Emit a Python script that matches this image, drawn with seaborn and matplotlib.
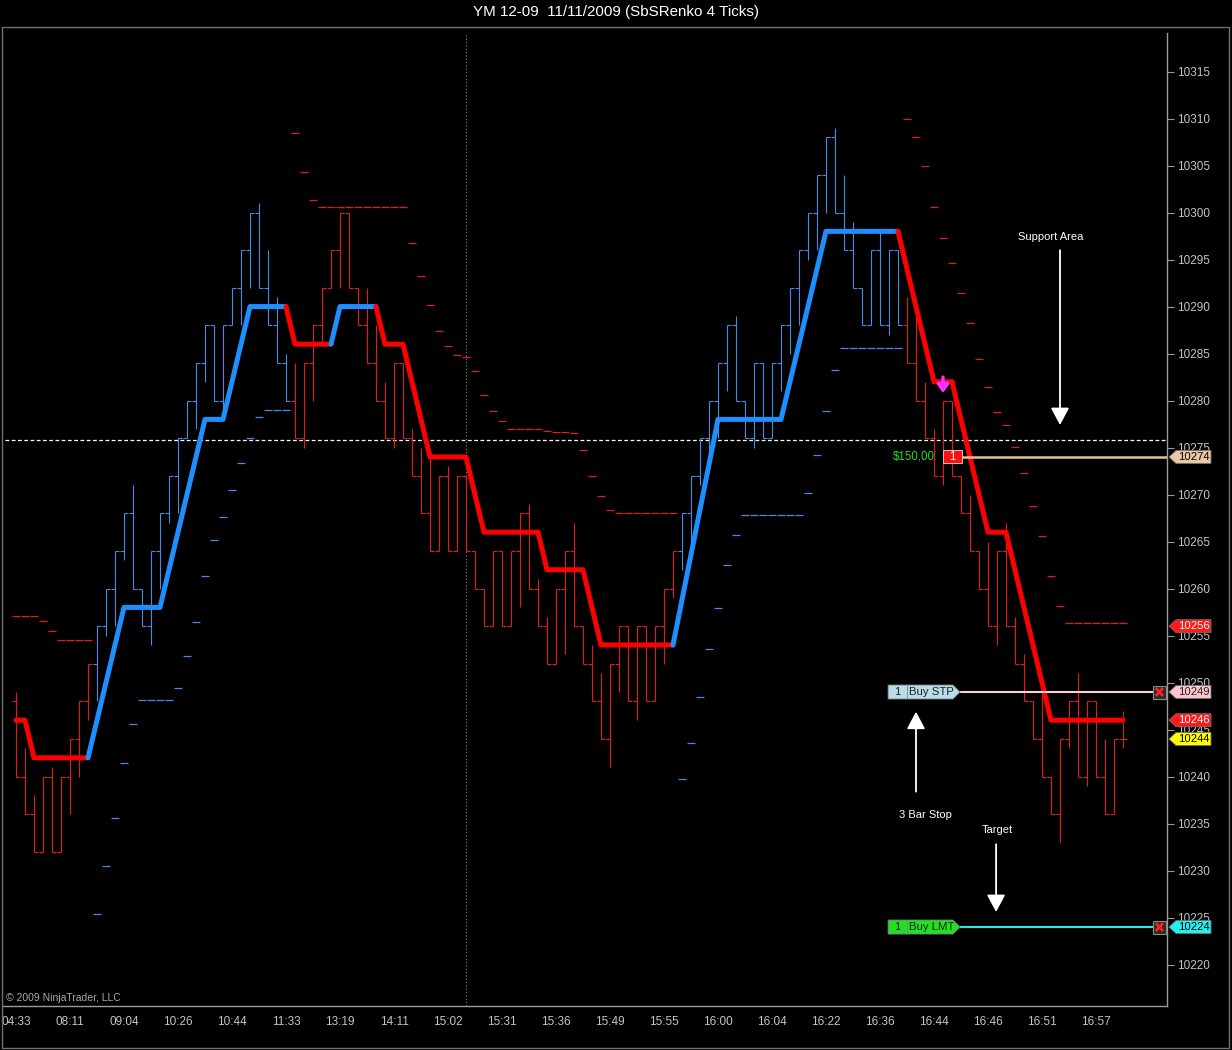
import numpy as np
import matplotlib
matplotlib.use("Agg")
import matplotlib.pyplot as plt
import matplotlib.transforms as mtransforms
from matplotlib.patches import Polygon, Rectangle
import seaborn as sns

# Renko bars (box = 4 pts); open of a bar = close of the bar before
first_open = 10248
closes = [10240, 10236, 10232, 10240, 10232, 10240, 10244, 10248, 10252, 10256,
          10260, 10264, 10268, 10260, 10256, 10264, 10268, 10272, 10276, 10280,
          10284, 10288, 10280, 10288, 10292, 10296, 10300, 10292, 10288, 10284,
          10280, 10276, 10284, 10288, 10292, 10296, 10300, 10292, 10288, 10284,
          10280, 10276, 10284, 10276, 10272, 10268, 10264, 10272, 10264, 10272,
          10264, 10260, 10256, 10264, 10256, 10264, 10268, 10260, 10256, 10252,
          10260, 10264, 10256, 10252, 10248, 10244, 10252, 10256, 10248, 10256,
          10248, 10256, 10260, 10264, 10268, 10272, 10276, 10280, 10284, 10288,
          10280, 10276, 10284, 10276, 10284, 10288, 10292, 10296, 10300, 10304,
          10308, 10300, 10296, 10292, 10288, 10296, 10288, 10296, 10288, 10284,
          10280, 10276, 10272, 10280, 10272, 10268, 10264, 10260, 10256, 10264,
          10256, 10252, 10248, 10244, 10240, 10236, 10244, 10248, 10240, 10248,
          10240, 10236, 10244, 10244]
highs = [10249, 10243, 10238, 10240, 10241, 10240, 10244, 10248, 10252, 10256,
         10260, 10264, 10268, 10271, 10260, 10264, 10268, 10272, 10276, 10280,
         10284, 10288, 10288, 10288, 10292, 10296, 10300, 10301, 10296, 10291,
         10285, 10284, 10284, 10288, 10292, 10296, 10300, 10300, 10292, 10292,
         10288, 10282, 10284, 10284, 10277, 10275, 10274, 10272, 10273, 10272,
         10272, 10264, 10260, 10264, 10264, 10264, 10268, 10269, 10261, 10257,
         10260, 10264, 10267, 10256, 10254, 10251, 10252, 10256, 10256, 10256,
         10256, 10256, 10260, 10264, 10268, 10272, 10276, 10280, 10284, 10288,
         10289, 10280, 10284, 10284, 10284, 10288, 10292, 10296, 10300, 10304,
         10308, 10309, 10304, 10299, 10292, 10296, 10298, 10296, 10296, 10291,
         10289, 10282, 10277, 10280, 10280, 10272, 10270, 10264, 10265, 10264,
         10267, 10257, 10253, 10248, 10249, 10240, 10244, 10248, 10251, 10248,
         10248, 10244, 10244, 10247]
lows = [10240, 10236, 10232, 10232, 10232, 10232, 10236, 10240, 10246, 10248,
        10255, 10256, 10263, 10260, 10256, 10254, 10260, 10267, 10268, 10276,
        10277, 10282, 10280, 10278, 10288, 10288, 10292, 10292, 10288, 10284,
        10280, 10276, 10275, 10280, 10286, 10292, 10292, 10292, 10288, 10284,
        10280, 10276, 10275, 10276, 10272, 10268, 10264, 10264, 10264, 10264,
        10264, 10260, 10256, 10256, 10256, 10256, 10258, 10260, 10256, 10252,
        10252, 10253, 10256, 10252, 10248, 10244, 10241, 10249, 10248, 10246,
        10248, 10248, 10252, 10259, 10262, 10264, 10271, 10274, 10276, 10281,
        10280, 10276, 10275, 10276, 10276, 10281, 10285, 10288, 10295, 10296,
        10300, 10300, 10296, 10292, 10288, 10288, 10288, 10287, 10288, 10284,
        10280, 10276, 10272, 10271, 10272, 10268, 10264, 10260, 10256, 10254,
        10256, 10252, 10248, 10244, 10240, 10236, 10233, 10243, 10240, 10239,
        10240, 10236, 10236, 10243]
# trailing stop dashes, one per bar
stops = [10257.1, 10257.1, 10257.1, 10256.6, 10255.5, 10254.5, 10254.5, 10254.5, 10254.5,
         10225.4, 10230.5, 10235.6, 10241.5, 10245.6, 10248.1, 10248.1, 10248.1, 10248.1, 10249.4, 10252.8,
         10256.5, 10261.3, 10265.2, 10267.6, 10270.5, 10273.4, 10276.0, 10278.3, 10279.0, 10279.0, 10279.0,
         10308.5, 10304.3, 10301.3,
         10300.6, 10300.6, 10300.6, 10300.6, 10300.6, 10300.6, 10300.6, 10300.6, 10300.6, 10300.6,
         10296.8, 10293.3, 10290.2, 10287.4, 10285.8, 10284.8, 10284.6, 10283.1, 10280.6, 10278.9, 10277.8,
         10277.0, 10277.0, 10277.0, 10277.0, 10276.8, 10276.7, 10276.7, 10276.5,
         10274.7, 10272.0, 10269.8, 10268.4, 10268.0, 10268.0, 10268.0, 10268.0, 10268.0, 10268.0, 10268.0,
         10239.7, 10243.6, 10248.5, 10253.6, 10257.9, 10262.5, 10265.7,
         10267.8, 10267.8, 10267.8, 10267.8, 10267.8, 10267.8, 10267.8,
         10270.2, 10274.2, 10278.9, 10283.2,
         10285.6, 10285.6, 10285.6, 10285.6, 10285.6, 10285.6, 10285.6,
         10309.9, 10308.0, 10304.9, 10300.6, 10297.3, 10294.6, 10291.4, 10288.3, 10284.4,
         10281.4, 10278.8, 10277.4, 10275.1, 10272.3, 10268.8, 10265.6, 10261.3, 10258.1,
         10256.3, 10256.3, 10256.3, 10256.3, 10256.3, 10256.3, 10256.3]
# first bar of each trend run and its direction
trend_start = [0, 9, 31, 74, 99]
trend_dir = ["down", "up", "down", "up", "down"]
# stepped trend line vertices
trend_bars = [0, 1, 2, 8, 12, 16, 21, 23, 26, 30, 31, 35, 36, 40, 41, 43, 46, 50,
              52, 58, 59, 63, 65, 73, 78, 85, 90, 98, 102, 104, 108, 110, 115, 123]
trend_vals = [10246, 10246, 10242, 10242, 10258, 10258, 10278, 10278, 10290, 10290,
              10286, 10286, 10290, 10290, 10286, 10286, 10274, 10274, 10266, 10266,
              10262, 10262, 10254, 10254, 10278, 10278, 10298, 10298, 10282, 10282,
              10266, 10266, 10246, 10246]
time_labels = ["04:33", "08:11", "09:04", "10:26", "10:44", "11:33", "13:19", "14:11",
               "15:02", "15:31", "15:36", "15:49", "15:55", "16:00", "16:04", "16:22",
               "16:36", "16:44", "16:46", "16:51", "16:57"]
price_ticks = list(range(10220, 10316, 5))
support_level = 10275.8
entry_price = 10274
stop_order = 10249
target_order = 10224
tag_values = [10274, 10256, 10249, 10246, 10244, 10224]

BLUE_BAR, RED_BAR = "#3f8fe8", "#e01c1c"
BLUE_LINE, RED_LINE = "#1e8fff", "#ff0000"

sns.set_theme(style="dark", rc={"axes.facecolor": "black", "figure.facecolor": "black"})
plt.rcParams["font.family"] = ["Liberation Sans", "DejaVu Sans"]

n = len(closes)
assert len(highs) == n and len(lows) == n and len(stops) == n
x = np.arange(n)
opens = [first_open] + closes[:-1]

bar_dir = []
for i in range(n):
    k = max(j for j, s in enumerate(trend_start) if s <= i)
    bar_dir.append(trend_dir[k])
bar_col = [BLUE_BAR if d == "up" else RED_BAR for d in bar_dir]

fig = plt.figure(figsize=(12.32, 10.5), dpi=100)
ax = fig.add_axes([3 / 1232, 44 / 1050, 1164 / 1232, 973 / 1050])
ax.set_facecolor("black")
ax.set_xlim(-1.444, 127.89)
ax.set_ylim(10215.6, 10319.1)

# reference lines
ax.axvline(50, color="#8a8a8a", ls=(0, (1, 2)), lw=0.8, zorder=1)
ax.axhline(support_level, xmin=2 / 1164, color="white", ls=(0, (3, 2)), lw=0.9, zorder=1)

# renko bars
ax.vlines(x, lows, highs, colors=bar_col, lw=0.8, zorder=3)
ax.hlines(opens, x - 0.42, x, colors=bar_col, lw=0.8, zorder=3)
ax.hlines(closes, x, x + 0.42, colors=bar_col, lw=0.8, zorder=3)

# trailing stop dashes
ax.hlines(stops, x - 0.4, x + 0.4, colors=bar_col, lw=0.9, zorder=3)

# stepped trend line, coloured by direction
runs = []
col = RED_LINE
for a in range(len(trend_bars) - 1):
    v0, v1 = trend_vals[a], trend_vals[a + 1]
    if v1 > v0:
        col = BLUE_LINE
    elif v1 < v0:
        col = RED_LINE
    if runs and runs[-1][0] == col:
        runs[-1][1].append(trend_bars[a + 1])
        runs[-1][2].append(v1)
    else:
        runs.append([col, [trend_bars[a], trend_bars[a + 1]], [v0, v1]])
for c, rx, ry in runs:
    sns.lineplot(x=rx, y=ry, color=c, linewidth=3.6, sort=False, estimator=None,
                 ax=ax, zorder=5)

# axes styling
for s in ["left", "top"]:
    ax.spines[s].set_visible(False)
for s in ["right", "bottom"]:
    ax.spines[s].set_color("#9a9a9a")
    ax.spines[s].set_linewidth(1.0)
ax.yaxis.tick_right()
ax.set_yticks(price_ticks)
ax.set_yticklabels([str(p) for p in price_ticks])
ax.set_xticks(range(0, 6 * len(time_labels), 6))
ax.set_xticklabels(time_labels)
ax.tick_params(axis="both", direction="out", length=5, width=0.8, color="#9a9a9a",
               labelcolor="#c4c4c4", labelsize=8.5)
ax.tick_params(axis="y", pad=2)
ax.tick_params(axis="x", pad=2)
ax.grid(False)
ax.set_xlabel("")
ax.set_ylabel("")

trans = mtransforms.blended_transform_factory(ax.transAxes, ax.transData)
px = 1 / 1164
pt = 1 / 9.4

tag_style = {10274: ("#e9c9a2", "black"), 10256: ("#ff1a1a", "white"),
             10249: ("#ffc4cc", "#202020"), 10246: ("#ff1a1a", "white"),
             10244: ("#ffff00", "black"), 10224: ("#22f0f0", "black")}
for v in tag_values:
    face, tc = tag_style[v]
    h = 6.5 * pt
    poly = Polygon([(1 + 2 * px, v), (1 + 9 * px, v + h), (1 + 44 * px, v + h),
                    (1 + 44 * px, v - h), (1 + 9 * px, v - h)], closed=True,
                   transform=trans, facecolor=face, edgecolor="#707070", lw=0.6,
                   clip_on=False, zorder=20)
    ax.add_patch(poly)
    ax.text(1 + 26.5 * px, v, str(v), transform=trans, ha="center", va="center",
            fontsize=8.1, color=tc, clip_on=False, zorder=21)

# order lines
ax.hlines(entry_price, 105.1, 127.89, color="#e2c29c", lw=1.8, zorder=6)
ax.hlines(stop_order, 104.9, 126.3, color="#ffd0d6", lw=1.5, zorder=6)
ax.hlines(target_order, 104.9, 126.3, color="#30e4ea", lw=1.5, zorder=6)

for v in [stop_order, target_order]:
    ax.add_patch(Rectangle((126.3, v - 6.5 * pt), 1.5, 13 * pt, facecolor="#2a2a2a",
                           edgecolor="#8a8a8a", lw=0.8, zorder=7))
    d = 4 * pt
    ax.plot([126.65, 127.45], [v - d, v + d], color="#ff2020", lw=2.0, zorder=8,
            solid_capstyle="butt")
    ax.plot([126.65, 127.45], [v + d, v - d], color="#ff2020", lw=2.0, zorder=8,
            solid_capstyle="butt")


def order_tag(v, face, label):
    h = 7 * pt
    poly = Polygon([(96.9, v - h), (96.9, v + h), (104.1, v + h), (104.9, v),
                    (104.1, v - h)], closed=True, facecolor=face, edgecolor="#808080",
                   lw=0.6, zorder=9)
    ax.add_patch(poly)
    ax.vlines(99.0, v - h, v + h, color="#808080", lw=0.6, zorder=10)
    ax.text(97.95, v, "1", ha="center", va="center", fontsize=8.2, color="#202020", zorder=10)
    ax.text(99.25, v, label, ha="left", va="center", fontsize=8.2, color="#202020", zorder=10)


order_tag(stop_order, "#b8dcea", "Buy STP")
order_tag(target_order, "#22e022", "Buy LMT")

# position marker
ax.text(102.1, entry_price, "$150,00", ha="right", va="center", fontsize=8.3,
        color="#22dd22", zorder=9)
ax.add_patch(Rectangle((103.0, entry_price - 6.5 * pt), 2.1, 13 * pt, facecolor="#ff1010",
                       edgecolor="#c8c8c8", lw=0.7, zorder=9))
ax.text(104.05, entry_price, "1", ha="center", va="center", fontsize=8.3, color="white", zorder=10)

# sell signal arrow
ax.annotate("", xy=(103, 10280.8), xytext=(103, 10282.5),
            arrowprops=dict(arrowstyle="-|>,head_length=0.5,head_width=0.35", color="#ff30ff",
                            lw=2.4, mutation_scale=10, shrinkA=0, shrinkB=0), zorder=9)

# annotations
arrow_kw = dict(arrowstyle="-|>,head_length=0.75,head_width=0.4", color="white", lw=1.3,
                mutation_scale=14, shrinkA=0, shrinkB=0)
ax.text(115.0, 10297.4, "Support Area", color="white", fontsize=8, ha="center", va="center")
ax.annotate("", xy=(116.0, 10277.4), xytext=(116.0, 10296.0), arrowprops=arrow_kw)
ax.text(101.0, 10235.9, "3 Bar Stop", color="white", fontsize=8, ha="center", va="center")
ax.annotate("", xy=(100.0, 10246.9), xytext=(100.0, 10238.4), arrowprops=arrow_kw)
ax.text(109.0, 10234.3, "Target", color="white", fontsize=8, ha="center", va="center")
ax.annotate("", xy=(108.9, 10225.6), xytext=(108.9, 10232.8), arrowprops=arrow_kw)

ax.text(3 / 1164, 3 / 973, "\u00a9 2009 NinjaTrader, LLC", transform=ax.transAxes,
        ha="left", va="bottom", fontsize=7.5, color="#a8a8a8")

# window frame and title
fig.add_artist(Rectangle((2 / 1232, 2 / 1050), 1227 / 1232, 1021 / 1050, transform=fig.transFigure,
                         fill=False, edgecolor="#707070", lw=1.0))
fig.text(0.5, 1 - 12 / 1050, "YM 12-09  11/11/2009 (SbSRenko 4 Ticks)", ha="center",
         va="center", color="white", fontsize=10.9)

fig.savefig("out.png", dpi=100, facecolor="black")
